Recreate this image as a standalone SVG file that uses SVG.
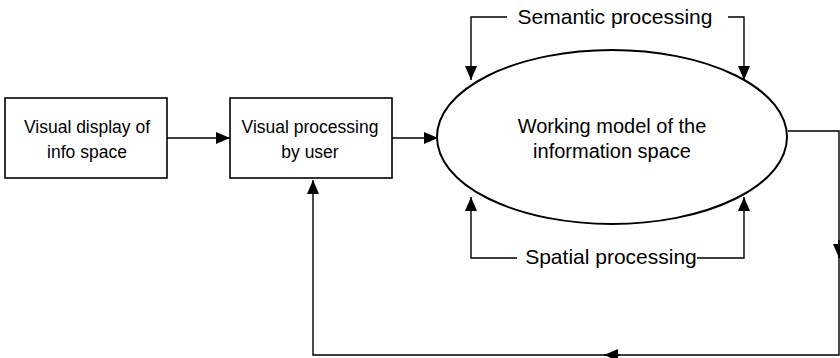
<svg xmlns="http://www.w3.org/2000/svg" width="840" height="358" viewBox="0 0 840 358">
  <defs>
    <marker id="arrow" viewBox="0 0 14 12" refX="14" refY="6" markerWidth="14" markerHeight="12" markerUnits="userSpaceOnUse" orient="auto">
      <path d="M0,0 L14,6 L0,12 Z" fill="#000"/>
    </marker>
    <style>
      .box { fill: #fff; stroke: #000; stroke-width: 1.6; }
      .oval { fill: #fff; stroke: #000; stroke-width: 2; }
      .link { fill: none; stroke: #000; stroke-width: 1.4; }
      .lbl { font-family: "Liberation Sans", Arial, sans-serif; fill: #000; text-anchor: middle; }
      .small { font-size: 17.5px; }
      .mid { font-size: 20px; }
      .big { font-size: 21px; }
    </style>
  </defs>
  <rect width="840" height="358" fill="#fff"/>

  <g id="connectors">
    <line class="link" x1="167" y1="138" x2="230" y2="138" marker-end="url(#arrow)"/>
    <line class="link" x1="392" y1="138" x2="438" y2="138" marker-end="url(#arrow)"/>
    <!-- semantic loop above the model -->
    <polyline class="link" points="507,17 471,17 471,80" marker-end="url(#arrow)"/>
    <polyline class="link" points="728,17 744,17 744,80" marker-end="url(#arrow)"/>
    <!-- spatial loop below the model -->
    <polyline class="link" points="517,258 471,258 471,197" marker-end="url(#arrow)"/>
    <polyline class="link" points="697,258 744,258 744,197" marker-end="url(#arrow)"/>
    <!-- feedback to visual processing -->
    <polyline class="link" points="788,131 839,131 839,258"/>
    <line class="link" x1="839" y1="240" x2="839" y2="258" marker-end="url(#arrow)"/>
    <polyline class="link" points="839,255 839,355 604,355"/>
    <line class="link" x1="620" y1="355" x2="604" y2="355" marker-end="url(#arrow)"/>
    <polyline class="link" points="604,355 313,355 313,180" marker-end="url(#arrow)"/>
  </g>

  <g id="display">
    <rect class="box" x="5" y="98" width="162" height="80"/>
    <text class="lbl small" x="87" y="133">Visual display of</text>
    <text class="lbl small" x="87" y="158">info space</text>
  </g>

  <g id="processing">
    <rect class="box" x="230" y="98" width="162" height="80"/>
    <text class="lbl small" x="310" y="133">Visual processing</text>
    <text class="lbl small" x="310" y="158">by user</text>
  </g>

  <g id="model">
    <ellipse class="oval" cx="612" cy="137" rx="175" ry="87"/>
    <text class="lbl mid" x="612" y="133">Working model of the</text>
    <text class="lbl mid" x="612" y="158">information space</text>
  </g>

  <g id="semantic">
    <text class="lbl big" x="615" y="24">Semantic processing</text>
  </g>

  <g id="spatial">
    <text class="lbl big" x="611" y="264">Spatial processing</text>
  </g>
</svg>
